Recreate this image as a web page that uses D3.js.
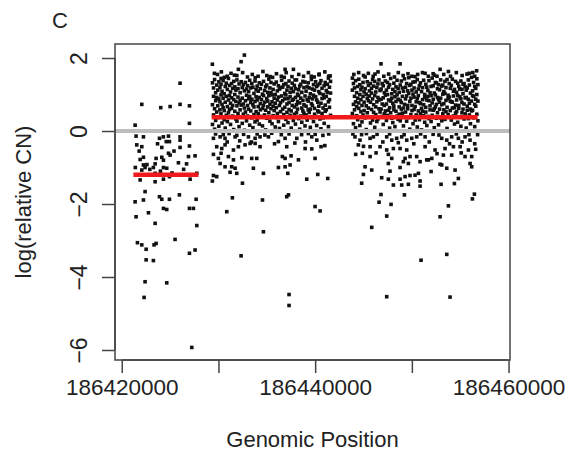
<!DOCTYPE html>
<html>
<head>
<meta charset="utf-8">
<script src="https://cdn.jsdelivr.net/npm/d3@7"></script>
<style>
  body { margin: 0; background: #fff; }
  text { font-family: "Liberation Sans", Arial, Helvetica, sans-serif; fill: #222; }
</style>
</head>
<body>
<svg id="chart"></svg>
<script>
// probe positions are kb above this base
const base = 186400000;

const xTicks = [186420000, 186430000, 186440000, 186450000, 186460000];
const xTickLabels = ["186420000", "", "186440000", "", "186460000"];
const yTicks = [-6, -4, -2, 0, 2];

// segment means (kb start, kb end, log CN)
const segStart = [21.2, 29.3];
const segEnd = [27.93, 56.8];
const segMean = [-1.2, 0.38];

// first segment, deleted region
const probesA = [
  [26.03,1.31],[22.07,0.73],[24.03,0.64],[25.0,0.67],[26.03,0.73],[27.0,0.69],[27.0,0.21],[21.38,0.16],
  [21.48,-0.14],[22.24,-0.16],[23.9,-0.2],[24.3,-0.16],[24.83,-0.14],[26.03,-0.16],[26.03,-0.25],[24.6,-0.29],
  [24.93,-0.29],[21.55,-0.38],[22.07,-0.43],[24.14,-0.45],[26.03,-0.45],[27.0,-0.41],[24.83,-0.61],[21.9,-0.78],
  [22.24,-0.72],[23.55,-0.75],[24.14,-0.72],[24.31,-0.8],[25.0,-0.66],[26.9,-0.7],[27.58,-0.68],[22.24,-0.93],
  [22.41,-1.0],[22.07,-1.07],[23.45,-0.9],[23.27,-1.0],[24.31,-1.0],[24.65,-1.02],[25.86,-0.87],[21.55,-1.2],
  [21.9,-1.34],[23.45,-1.16],[23.45,-1.39],[24.31,-1.32],[24.93,-1.25],[27.07,-1.32],[27.76,-1.16],[22.41,-1.66],
  [21.38,-1.94],[22.24,-1.89],[23.9,-1.8],[24.14,-1.87],[24.31,-2.12],[24.65,-2.15],[24.93,-1.87],[25.96,-1.75],
  [27.0,-2.12],[27.41,-2.12],[27.69,-1.87],[21.48,-2.35],[22.76,-2.24],[23.45,-2.53],[27.76,-2.59],[21.62,-3.06],
  [22.07,-3.12],[22.52,-3.24],[23.34,-3.12],[23.55,-3.08],[25.51,-2.97],[27.0,-3.35],[27.58,-3.26],[22.52,-3.53],
  [23.27,-3.55],[22.41,-4.13],[24.65,-4.16],[22.31,-4.56],[27.24,-5.93],
  [21.4,-1.0],[22.6,-0.92],[22.9,-1.05],[23.1,-1.2],[24.0,-1.1],[25.2,-1.15],[26.4,-1.05],[27.3,-1.2],
  [21.8,-0.55],[23.7,-0.35],[26.7,-0.9],[25.4,-0.55]
];

// second segment: dense band, high tail, low tail
const probesB = [
  [29.38,1.32],[29.38,0.72],[29.38,0.18],[29.49,0.95],[29.49,1.18],[29.49,0.44],[29.6,0.61],[29.6,1.41],[29.6,0.05],
  [29.71,1.05],[29.71,0.83],[29.71,0.29],[29.82,1.26],[29.82,0.52],[29.82,0.92],[29.93,0.37],[29.93,1.12],[29.93,0.69],
  [30.04,0.88],[30.04,1.35],[30.04,0.13],[30.15,1.19],[30.15,0.58],[30.15,0.8],[30.26,0.47],[30.26,0.99],[30.26,1.28],
  [30.37,0.73],[30.37,0.22],[30.37,1.09],[30.48,1.38],[30.48,0.64],[30.48,0.9],[30.59,0.31],[30.59,1.02],[30.59,0.56],
  [30.7,1.22],[30.7,0.79],[30.7,0.08],[30.81,0.95],[30.81,0.43],[30.81,1.31],[30.92,0.67],[30.92,1.14],[30.92,0.26],
  [31.03,1.44],[31.03,0.85],[31.03,0.5],[31.14,0.59],[31.14,1.25],[31.14,0.97],[31.25,0.18],[31.25,0.76],[31.25,1.07],
  [31.36,1.3],[31.36,0.62],[31.36,0.91],[31.47,0.41],[31.47,1.17],[31.47,0.7],[31.58,0.86],[31.58,0.04],[31.58,1.36],
  [31.69,1.0],[31.69,0.54],[31.69,1.21],[31.8,0.33],[31.8,0.81],[31.8,1.12],[31.91,0.69],[31.91,1.4],[31.91,0.27],
  [32.02,1.16],[32.02,0.48],[32.02,0.93],[32.13,0.77],[32.13,1.29],[32.13,0.12],[32.24,0.58],[32.24,1.05],[32.24,0.84],
  [32.35,1.35],[32.35,0.39],[32.35,0.71],[32.46,0.9],[32.46,1.19],[32.46,0.21],[32.57,0.46],[32.57,0.74],[32.57,1.27],
  [32.68,1.1],[32.68,0.63],[32.68,0.02],[32.79,0.83],[32.79,1.33],[32.79,0.52],[32.9,0.28],[32.9,0.98],[32.9,1.15],
  [33.01,1.24],[33.01,0.7],[33.01,0.41],[33.12,0.6],[33.12,1.08],[33.12,0.88],[33.23,0.95],[33.23,0.16],[33.23,1.39],
  [33.34,1.18],[33.34,0.55],[33.34,0.78],[33.45,0.36],[33.45,0.87],[33.45,1.3],[33.56,0.72],[33.56,1.2],[33.56,0.09],
  [33.67,1.03],[33.67,0.45],[33.67,0.66],[33.78,1.37],[33.78,0.81],[33.78,0.25],[33.89,0.53],[33.89,1.13],[33.89,0.94],
  [34.0,0.85],[34.0,0.3],[34.0,1.23],[34.11,1.09],[34.11,0.67],[34.11,0.47],[34.22,0.19],[34.22,0.92],[34.22,1.32],
  [34.33,0.75],[34.33,1.16],[34.33,0.58],[34.44,1.28],[34.44,0.4],[34.44,0.86],[34.55,0.62],[34.55,1.01],[34.55,0.14],
  [34.66,0.97],[34.66,1.36],[34.66,0.7],[34.77,0.44],[34.77,0.79],[34.77,1.11],[34.88,1.21],[34.88,0.57],[34.88,0.03],
  [34.99,0.89],[34.99,1.26],[34.99,0.35],[35.1,0.66],[35.1,1.06],[35.1,0.82],[35.21,1.42],[35.21,0.5],[35.21,0.97],
  [35.32,0.27],[35.32,0.73],[35.32,1.18],[35.43,1.05],[35.43,0.61],[35.43,1.33],[35.54,0.8],[35.54,0.2],[35.54,0.99],
  [35.65,1.14],[35.65,0.42],[35.65,0.68],[35.76,0.56],[35.76,1.29],[35.76,0.9],[35.87,1.0],[35.87,0.76],[35.87,0.11],
  [35.98,1.34],[35.98,0.64],[35.98,0.37],[36.09,0.48],[36.09,1.1],[36.09,0.85],[36.2,0.93],[36.2,1.24],[36.2,0.26],
  [36.31,0.7],[36.31,0.07],[36.31,1.15],[36.42,1.19],[36.42,0.53],[36.42,0.78],[36.53,0.38],[36.53,0.96],[36.53,1.39],
  [36.64,0.83],[36.64,1.2],[36.64,0.6],[36.75,1.27],[36.75,0.45],[36.75,0.16],[36.86,0.65],[36.86,1.03],[36.86,0.88],
  [36.97,0.99],[36.97,0.32],[36.97,1.3],[37.08,1.12],[37.08,0.74],[37.08,0.51],[37.19,0.23],[37.19,0.89],[37.19,1.22],
  [37.3,0.78],[37.3,1.37],[37.3,0.59],[37.41,1.06],[37.41,0.43],[37.41,0.94],[37.52,0.55],[37.52,1.17],[37.52,0.08],
  [37.63,1.31],[37.63,0.7],[37.63,0.84],[37.74,0.87],[37.74,0.29],[37.74,1.08],[37.85,0.46],[37.85,1.25],[37.85,0.66],
  [37.96,1.16],[37.96,0.92],[37.96,0.19],[38.07,0.72],[38.07,1.4],[38.07,0.5],[38.18,1.01],[38.18,0.6],[38.18,0.81],
  [38.29,0.34],[38.29,1.13],[38.29,0.97],[38.4,1.23],[38.4,0.77],[38.4,0.05],[38.51,0.9],[38.51,0.41],[38.51,1.28],
  [38.62,0.63],[38.62,1.06],[38.62,0.24],[38.73,1.36],[38.73,0.84],[38.73,0.55],[38.84,0.49],[38.84,1.19],[38.84,0.72],
  [38.95,0.96],[38.95,0.14],[38.95,1.34],[39.06,1.09],[39.06,0.68],[39.06,0.44],[39.17,0.3],[39.17,0.86],[39.17,1.21],
  [39.28,0.82],[39.28,1.32],[39.28,0.58],[39.39,1.18],[39.39,0.51],[39.39,0.92],[39.5,0.6],[39.5,1.02],[39.5,0.1],
  [39.61,1.41],[39.61,0.75],[39.61,0.37],[39.72,0.7],[39.72,1.15],[39.72,0.88],[39.83,0.98],[39.83,0.26],[39.83,1.27],
  [39.94,1.12],[39.94,0.62],[39.94,0.46],[40.05,0.4],[40.05,0.94],[40.05,1.35],[40.16,0.85],[40.16,1.22],[40.16,0.15],
  [40.27,1.26],[40.27,0.55],[40.27,0.79],[40.38,0.52],[40.38,1.08],[40.38,0.68],[40.49,1.03],[40.49,0.33],[40.49,1.3],
  [40.6,0.76],[40.6,1.38],[40.6,0.06],[40.71,1.17],[40.71,0.48],[40.71,0.89],[40.82,0.36],[40.82,1.0],[40.82,0.63],
  [40.93,0.91],[40.93,1.24],[40.93,0.21],[41.04,1.33],[41.04,0.71],[41.04,0.54],[41.15,0.58],[41.15,1.11],[41.15,0.95],
  [41.26,1.06],[41.26,0.39],[41.26,1.28],[41.37,0.8],[41.37,1.45],[41.37,0.12],[41.48,1.2],[41.48,0.65],[41.48,0.86],
  [41.59,0.43],[41.59,1.04],[41.59,1.36],
  [32.68,2.08],[32.34,1.9],[29.37,1.83],[32.06,1.69],[29.58,1.58],[36.89,1.69],[37.75,1.69],[40.41,1.56],
  [41.55,1.51],[31.65,1.53],[30.27,1.44],[35.34,1.49],[37.92,1.4],
  [29.9,1.55],[30.3,1.62],[30.9,1.5],[31.3,1.58],[31.9,1.52],[32.5,1.6],[33.0,1.48],[33.5,1.55],[34.1,1.5],
  [34.6,1.63],[35.0,1.52],[35.6,1.47],[36.0,1.57],[36.5,1.5],[37.0,1.6],[37.6,1.49],[38.3,1.55],[38.8,1.5],
  [39.3,1.6],[39.9,1.48],[40.4,1.54],[41.0,1.62],[41.4,1.5],[30.6,1.47],[33.8,1.46],[36.8,1.47],[39.6,1.5],
  [29.48,-0.2],[30.17,-0.16],[30.68,-0.2],[31.72,-0.16],[33.1,-0.16],[33.79,-0.2],[34.3,-0.16],[35.17,-0.16],
  [36.2,-0.29],[36.89,-0.2],[38.1,-0.2],[39.65,-0.16],[40.17,-0.25],[29.82,-0.43],[30.34,-0.48],[30.68,-0.38],
  [31.55,-0.52],[32.06,-0.43],[32.75,-0.38],[33.27,-0.34],[33.79,-0.34],[34.3,-0.43],[37.06,-0.43],[38.96,-0.48],
  [39.65,-0.49],[40.61,-0.43],[29.48,-0.64],[29.99,-0.75],[30.27,-0.61],[31.03,-0.7],[31.55,-0.79],[32.41,-0.73],
  [33.44,-0.75],[33.96,-0.75],[36.61,-0.7],[36.89,-0.75],[37.51,-0.68],[38.27,-0.79],[39.99,-0.75],[30.17,-0.89],
  [30.68,-0.98],[31.37,-0.98],[31.72,-1.02],[33.61,-1.02],[36.2,-1.0],[36.89,-0.98],[37.41,-0.93],[31.2,-1.13],
  [31.89,-1.16],[34.65,-1.16],[37.17,-1.16],[29.48,-1.22],[29.82,-1.25],[29.37,-1.37],[32.48,-1.43],[39.13,-1.32],
  [40.27,-1.19],[41.3,-1.3],[31.44,-1.83],[34.55,-1.89],[37.06,-1.8],[37.24,-1.75],[39.99,-2.07],[40.51,-2.19],
  [30.86,-2.21],[34.65,-2.76],[32.34,-3.42],[37.3,-4.48],[37.3,-4.78],
  [29.7,-0.08],[30.5,-0.1],[31.1,-0.07],[31.9,-0.12],[32.6,-0.09],[33.4,-0.3],[34.0,-0.08],[34.8,-0.11],
  [35.5,-0.06],[36.5,-0.1],[37.3,-0.08],[37.9,-0.33],[38.6,-0.1],[39.3,-0.07],[40.0,-0.09],[40.8,-0.12],
  [41.4,-0.08],[30.9,-0.3],[32.2,-0.27],[35.8,-0.35],[39.0,-0.3],[41.0,-0.4]
];

// third segment
const probesC = [
  [43.85,1.12],[43.85,0.48],[43.85,1.45],[43.96,0.73],[43.96,1.3],[43.96,0.2],[44.07,0.95],[44.07,0.58],[44.07,1.18],
  [44.18,1.38],[44.18,0.8],[44.18,0.09],[44.29,0.42],[44.29,1.05],[44.29,0.67],[44.4,1.22],[44.4,0.31],[44.4,0.9],
  [44.51,0.62],[44.51,1.42],[44.51,0.77],[44.62,1.0],[44.62,0.15],[44.62,1.27],[44.73,0.86],[44.73,0.53],[44.73,1.13],
  [44.84,0.25],[44.84,1.2],[44.84,0.7],[44.95,1.33],[44.95,0.95],[44.95,0.44],[45.06,0.56],[45.06,0.79],[45.06,1.07],
  [45.17,1.16],[45.17,0.36],[45.17,1.48],[45.28,0.69],[45.28,1.01],[45.28,0.04],[45.39,0.9],[45.39,1.35],[45.39,0.5],
  [45.5,1.25],[45.5,0.63],[45.5,0.83],[45.61,0.38],[45.61,1.1],[45.61,0.96],[45.72,0.79],[45.72,0.22],[45.72,1.3],
  [45.83,1.04],[45.83,0.59],[45.83,1.17],[45.94,1.41],[45.94,0.88],[45.94,0.3],[46.05,0.51],[46.05,1.23],[46.05,0.72],
  [46.16,0.97],[46.16,0.1],[46.16,1.36],[46.27,0.66],[46.27,1.07],[46.27,0.45],[46.38,1.19],[46.38,0.8],[46.38,0.26],
  [46.49,0.33],[46.49,0.92],[46.49,1.29],[46.6,0.85],[46.6,1.4],[46.6,0.61],[46.71,1.11],[46.71,0.52],[46.71,0.01],
  [46.82,0.6],[46.82,1.15],[46.82,0.87],[46.93,1.3],[46.93,0.4],[46.93,0.74],[47.04,0.91],[47.04,1.24],[47.04,0.18],
  [47.15,0.47],[47.15,0.7],[47.15,1.05],[47.26,1.37],[47.26,0.98],[47.26,0.55],[47.37,0.74],[47.37,1.12],[47.37,0.29],
  [47.48,1.0],[47.48,0.43],[47.48,1.33],[47.59,0.57],[47.59,0.85],[47.59,1.2],[47.7,1.27],[47.7,0.64],[47.7,0.08],
  [47.81,0.82],[47.81,1.44],[47.81,0.5],[47.92,0.35],[47.92,1.02],[47.92,0.9],[48.03,1.14],[48.03,0.76],[48.03,0.23],
  [48.14,0.68],[48.14,1.31],[48.14,0.58],[48.25,0.94],[48.25,0.12],[48.25,1.08],[48.36,1.21],[48.36,0.54],[48.36,0.81],
  [48.47,0.41],[48.47,0.99],[48.47,1.39],[48.58,0.87],[48.58,1.17],[48.58,0.32],[48.69,1.06],[48.69,0.66],[48.69,0.46],
  [48.8,0.28],[48.8,0.84],[48.8,1.26],[48.91,0.78],[48.91,1.37],[48.91,0.6],[49.02,1.18],[49.02,0.49],[49.02,0.95],
  [49.13,0.63],[49.13,1.09],[49.13,0.14],[49.24,1.43],[49.24,0.73],[49.24,0.38],[49.35,0.52],[49.35,1.2],[49.35,0.88],
  [49.46,0.96],[49.46,0.27],[49.46,1.3],[49.57,1.1],[49.57,0.61],[49.57,0.7],[49.68,0.37],[49.68,1.03],[49.68,1.46],
  [49.79,0.81],[49.79,1.25],[49.79,0.05],[49.9,1.28],[49.9,0.45],[49.9,0.9],[50.01,0.7],[50.01,1.12],[50.01,0.56],
  [50.12,1.01],[50.12,0.2],[50.12,1.34],[50.23,0.59],[50.23,0.93],[50.23,1.18],[50.34,1.35],[50.34,0.67],[50.34,0.3],
  [50.45,0.44],[50.45,1.07],[50.45,0.8],[50.56,0.89],[50.56,1.41],[50.56,0.11],[50.67,1.15],[50.67,0.55],[50.67,0.97],
  [50.78,0.31],[50.78,0.78],[50.78,1.24],[50.89,0.75],[50.89,1.32],[50.89,0.48],[51.0,1.08],[51.0,0.62],[51.0,0.03],
  [51.11,0.54],[51.11,1.19],[51.11,0.86],[51.22,1.39],[51.22,0.42],[51.22,0.72],[51.33,0.92],[51.33,1.0],[51.33,0.24],
  [51.44,0.65],[51.44,1.28],[51.44,0.52],[51.55,1.2],[51.55,0.85],[51.55,0.15],[51.66,0.4],[51.66,1.11],[51.66,0.95],
  [51.77,0.83],[51.77,0.34],[51.77,1.38],[51.88,1.05],[51.88,0.69],[51.88,0.58],[51.99,0.26],[51.99,0.97],[51.99,1.22],
  [52.1,0.77],[52.1,1.45],[52.1,0.43],[52.21,1.24],[52.21,0.57],[52.21,0.87],[52.32,0.61],[52.32,1.04],[52.32,0.09],
  [52.43,0.99],[52.43,1.33],[52.43,0.66],[52.54,1.32],[52.54,0.73],[52.54,0.35],[52.65,0.5],[52.65,1.16],[52.65,0.92],
  [52.76,0.86],[52.76,0.17],[52.76,1.27],[52.87,1.13],[52.87,0.6],[52.87,0.79],[52.98,0.36],[52.98,0.9],[52.98,1.4],
  [53.09,0.72],[53.09,1.23],[53.09,0.28],[53.2,1.26],[53.2,0.47],[53.2,1.01],[53.31,0.58],[53.31,1.08],[53.31,0.75],
  [53.42,1.03],[53.42,0.32],[53.42,1.36],[53.53,0.84],[53.53,1.19],[53.53,0.53],[53.64,1.41],[53.64,0.65],[53.64,0.07],
  [53.75,0.45],[53.75,0.98],[53.75,0.89],[53.86,0.93],[53.86,1.3],[53.86,0.39],[53.97,1.17],[53.97,0.56],[53.97,0.82],
  [54.08,0.3],[54.08,0.8],[54.08,1.25],[54.19,0.79],[54.19,1.42],[54.19,0.63],[54.3,1.09],[54.3,0.41],[54.3,0.96],
  [54.41,0.64],[54.41,1.14],[54.41,0.19],[54.52,1.36],[54.52,0.71],[54.52,0.49],[54.63,0.53],[54.63,1.06],[54.63,0.85],
  [54.74,0.97],[54.74,0.24],[54.74,1.31],[54.85,1.22],[54.85,0.62],[54.85,0.7],[54.96,0.39],[54.96,0.94],[54.96,1.15],
  [55.07,0.88],[55.07,1.37],[55.07,0.13],[55.18,1.14],[55.18,0.5],[55.18,0.78],[55.29,0.6],[55.29,1.02],[55.29,1.28],
  [55.4,1.3],[55.4,0.74],[55.4,0.33],[55.51,0.47],[55.51,1.21],[55.51,0.91],[55.62,0.92],[55.62,0.08],[55.62,1.12],
  [55.73,1.18],[55.73,0.57],[55.73,0.68],[55.84,0.34],[55.84,0.87],[55.84,1.4],[55.95,0.76],[55.95,1.26],[55.95,0.44],
  [56.06,1.04],[56.06,0.6],[56.06,0.2],[56.17,1.47],[56.17,0.82],[56.17,0.55],[56.28,0.57],[56.28,1.1],[56.28,0.97],
  [56.39,0.95],[56.39,0.36],[56.39,1.33],[56.5,1.22],[56.5,0.73],[56.5,0.12],[56.61,0.68],[56.61,1.17],[56.61,0.87],
  [56.72,1.0],[56.72,0.46],[56.72,1.43],[56.83,0.82],[56.83,1.27],[56.83,0.28],
  [46.81,1.84],[48.78,1.84],[46.19,1.56],[50.33,1.49],[52.92,1.69],[53.78,1.63],[52.33,1.53],[55.92,1.58],[51.37,1.58],
  [44.0,1.55],[44.5,1.6],[45.0,1.52],[45.5,1.58],[46.0,1.5],[46.5,1.62],[47.1,1.5],[47.6,1.56],[48.2,1.48],
  [48.6,1.6],[49.1,1.52],[49.6,1.57],[50.0,1.5],[50.6,1.55],[51.1,1.6],[51.7,1.5],[52.2,1.57],[52.6,1.5],
  [53.3,1.55],[54.0,1.5],[54.6,1.6],[55.2,1.52],[55.7,1.56],[56.3,1.6],[56.7,1.65],[56.5,1.5],
  [44.12,-0.16],[44.64,-0.25],[45.68,-0.2],[46.02,-0.16],[47.4,-0.16],[47.92,-0.25],[48.43,-0.2],[48.95,-0.16],
  [49.47,-0.25],[49.99,-0.2],[50.5,-0.16],[51.37,-0.16],[53.09,-0.2],[53.61,-0.25],[54.12,-0.16],[54.81,-0.2],
  [55.5,-0.16],[56.02,-0.25],[44.47,-0.38],[45.68,-0.43],[46.71,-0.43],[47.4,-0.52],[48.09,-0.48],[48.78,-0.48],
  [49.47,-0.52],[51.37,-0.43],[52.4,-0.52],[53.43,-0.48],[54.3,-0.43],[54.99,-0.43],[55.85,-0.52],[44.19,-0.64],
  [44.88,-0.61],[45.68,-0.7],[47.57,-0.64],[47.92,-0.75],[49.3,-0.75],[49.81,-0.7],[50.5,-0.7],[51.54,-0.79],
  [52.06,-0.75],[53.26,-0.66],[54.12,-0.66],[55.5,-0.7],[56.19,-0.7],[47.57,-0.89],[49.12,-0.84],[49.64,-0.89],
  [50.85,-0.84],[51.71,-0.79],[52.92,-0.91],[56.02,-0.89],[56.19,-0.98],[45.16,-0.98],[45.85,-1.07],[47.74,-1.1],
  [48.78,-1.0],[49.81,-1.22],[50.33,-1.21],[50.68,-1.16],[51.99,-1.11],[53.09,-0.93],[53.61,-1.02],[54.47,-1.07],
  [44.99,-1.19],[46.88,-1.28],[47.57,-1.32],[48.78,-1.32],[49.3,-1.25],[50.85,-1.37],[54.81,-1.3],[44.81,-1.43],
  [48.09,-1.48],[48.95,-1.48],[49.64,-1.46],[50.85,-1.51],[53.02,-1.46],[54.4,-1.44],[46.81,-1.74],[49.23,-1.75],
  [56.47,-1.73],[56.26,-1.86],[46.61,-1.95],[47.85,-2.01],[53.78,-2.05],[47.4,-2.33],[52.92,-2.35],[45.85,-2.64],
  [53.61,-3.38],[50.95,-3.54],[47.4,-4.54],[53.95,-4.55],
  [43.9,-0.08],[44.8,-0.1],[45.3,-0.07],[46.4,-0.09],[47.0,-0.3],[47.7,-0.08],[48.6,-0.32],[49.2,-0.1],
  [50.2,-0.35],[50.9,-0.08],[51.8,-0.3],[52.2,-0.09],[52.8,-0.11],[53.9,-0.35],[54.6,-0.08],[55.2,-0.3],
  [55.9,-0.1],[56.5,-0.35],[56.8,-0.1],[45.0,-0.42],[46.3,-0.6],[52.6,-0.62],[55.1,-0.6],[56.6,-0.5]
];

const width = 566;
const height = 465;
const margin = { top: 44, right: 56, bottom: 105, left: 115 };

const svg = d3.select("#chart")
  .attr("width", width)
  .attr("height", height)
  .attr("viewBox", [0, 0, width, height]);

svg.append("rect").attr("width", width).attr("height", height).attr("fill", "#fff");

const x = d3.scaleLinear()
  .domain([186419300, 186460150])
  .range([margin.left, width - margin.right]);

const y = d3.scaleLinear()
  .domain([-6.274, 2.384])
  .range([height - margin.bottom, margin.top]);

const pos = (kb) => x(base + kb * 1000);

const probes = probesA.concat(probesB, probesC);

// points
const sz = 3.6;
svg.append("g")
  .attr("fill", "#111")
  .selectAll("rect")
  .data(probes)
  .join("rect")
  .attr("x", (d) => pos(d[0]) - sz / 2)
  .attr("y", (d) => y(d[1]) - sz / 2)
  .attr("width", sz)
  .attr("height", sz);

// zero line
svg.append("line")
  .attr("x1", margin.left)
  .attr("x2", width - margin.right)
  .attr("y1", y(0))
  .attr("y2", y(0))
  .attr("stroke", "#bdbdbd")
  .attr("stroke-width", 4);

// segment means
svg.append("g")
  .selectAll("line")
  .data(segMean)
  .join("line")
  .attr("x1", (d, i) => pos(segStart[i]))
  .attr("x2", (d, i) => pos(segEnd[i]))
  .attr("y1", (d) => y(d))
  .attr("y2", (d) => y(d))
  .attr("stroke", "#f01a1a")
  .attr("stroke-width", 4.5);

// box
svg.append("rect")
  .attr("x", margin.left)
  .attr("y", margin.top)
  .attr("width", width - margin.left - margin.right)
  .attr("height", height - margin.top - margin.bottom)
  .attr("fill", "none")
  .attr("stroke", "#444")
  .attr("stroke-width", 1.5);

// x axis
const xAxis = svg.append("g")
  .attr("transform", `translate(0,${height - margin.bottom})`)
  .call(d3.axisBottom(x)
    .tickValues(xTicks)
    .tickSize(13)
    .tickPadding(6)
    .tickFormat((d, i) => xTickLabels[i]));
xAxis.select(".domain").attr("stroke", "#444").attr("stroke-width", 1.5)
  .attr("d", `M${x(xTicks[0])},0H${x(xTicks[xTicks.length - 1])}`);
xAxis.selectAll(".tick line").attr("stroke", "#444").attr("stroke-width", 1.5);
xAxis.selectAll(".tick text")
  .style("font-family", "'Liberation Sans', Arial, sans-serif")
  .style("font-size", "22.5px")
  .attr("fill", "#222");

// y axis
const yAxis = svg.append("g")
  .attr("transform", `translate(${margin.left},0)`)
  .call(d3.axisLeft(y).tickValues(yTicks).tickSize(13).tickFormat((d) => d < 0 ? "\u2212" + Math.abs(d) : d));
yAxis.select(".domain").attr("stroke", "#444").attr("stroke-width", 1.5)
  .attr("d", `M0,${y(yTicks[0])}V${y(yTicks[yTicks.length - 1])}`);
yAxis.selectAll(".tick line").attr("stroke", "#444").attr("stroke-width", 1.5);
yAxis.selectAll(".tick text")
  .attr("x", null).attr("dy", null)
  .attr("text-anchor", "middle")
  .attr("transform", "translate(-28,0) rotate(-90)")
  .style("font-family", "'Liberation Sans', Arial, sans-serif")
  .style("font-size", "23px")
  .attr("fill", "#222");

// titles
svg.append("text")
  .attr("transform", `translate(31,${(margin.top + height - margin.bottom) / 2}) rotate(-90)`)
  .attr("text-anchor", "middle")
  .style("font-size", "22px")
  .text("log(relative CN)");

svg.append("text")
  .attr("x", (margin.left + width - margin.right) / 2)
  .attr("y", 447)
  .attr("text-anchor", "middle")
  .style("font-size", "22px")
  .text("Genomic Position");

svg.append("text")
  .attr("x", 52)
  .attr("y", 28)
  .style("font-size", "22px")
  .text("C");
</script>
</body>
</html>
